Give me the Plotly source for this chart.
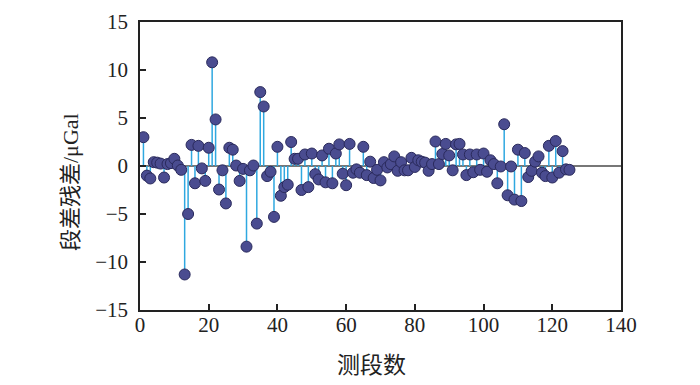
import plotly.graph_objects as go

segment_index = list(range(1, 126))
residuals = [
    3.0, -1.0, -1.3, 0.4, 0.35, 0.25, -1.2, 0.2, 0.3, 0.75,
    0.05, -0.4, -11.3, -5.0, 2.2, -1.8, 2.1, -0.25, -1.55, 1.9,
    10.8, 4.85, -2.45, -0.45, -3.9, 1.9, 1.7, 0.05, -1.55, -0.3,
    -8.4, -0.45, 0.05, -6.0, 7.7, 6.2, -1.05, -0.6, -5.3, 2.0,
    -3.1, -2.2, -1.95, 2.5, 0.75, 0.75, -2.5, 1.2, -2.2, 1.3,
    -0.85, -1.4, 1.1, -1.7, 1.8, -1.8, 1.3, 2.25, -0.8, -2.0,
    2.3, -0.7, -0.35, -0.7, 2.0, -0.95, 0.45, -1.25, -0.4, -1.5,
    0.4, -0.15, 0.2, 1.0, -0.5, 0.4, -0.45, -0.45, 0.85, -0.1,
    0.6, 0.45, 0.35, -0.5, 0.2, 2.55, 0.2, 1.25, 2.3, 1.1,
    -0.45, 2.25, 2.3, 1.2, -0.95, 1.2, -0.65, 1.2, -0.4, 1.3,
    -0.6, 0.6, 0.2, -1.8, -0.05, 4.35, -3.05, -0.05, -3.5, 1.7,
    -3.65, 1.35, -1.15, -0.5, 0.45, 1.0, -0.7, -1.05, 2.1, -1.2,
    2.6, -0.7, 1.55, -0.35, -0.4,
]
x_ticks = [0, 20, 40, 60, 80, 100, 120, 140]
y_ticks = [-15, -10, -5, 0, 5, 10, 15]
x_title = "测段数"
y_title = "段差残差/μGal"

stem_x, stem_y = [], []
for xi, yi in zip(segment_index, residuals):
    stem_x += [xi, xi, None]
    stem_y += [0, yi, None]

serif = "Liberation Serif, Times New Roman, Noto Sans CJK SC, serif"

fig = go.Figure()
fig.add_trace(go.Scatter(
    x=stem_x, y=stem_y, mode="lines",
    line=dict(color="#2fa8e0", width=1.5),
    hoverinfo="skip", showlegend=False,
))
fig.add_trace(go.Scatter(
    x=segment_index, y=residuals, mode="markers",
    marker=dict(size=11, color="#4a4c90", line=dict(color="#2a2a5c", width=1)),
    showlegend=False,
))

fig.update_layout(
    width=700, height=385,
    margin=dict(l=132, r=87, t=14, b=83),
    paper_bgcolor="white", plot_bgcolor="white",
    font=dict(family=serif, size=21, color="#222"),
    annotations=[
        dict(text=x_title, xref="paper", yref="paper", x=0.4823, y=-0.1944,
             xanchor="center", yanchor="middle", showarrow=False,
             font=dict(family=serif, size=23, color="#222")),
        dict(text=y_title, xref="paper", yref="paper", x=-0.1455, y=0.4444,
             xanchor="center", yanchor="middle", showarrow=False, textangle=-90,
             font=dict(family=serif, size=22, color="#222")),
    ],
)
fig.update_xaxes(
    range=[0, 140], tickvals=x_ticks, automargin=False,
    showgrid=False, zeroline=False,
    showline=True, linecolor="#222", linewidth=1.5, mirror=True,
    ticks="inside", ticklen=6, tickwidth=1.5, tickcolor="#222",
    ticklabelstandoff=-5,
)
fig.update_yaxes(
    range=[-15, 15], tickvals=y_ticks, automargin=False,
    showgrid=False, zeroline=True, zerolinecolor="#777", zerolinewidth=1.5,
    showline=True, linecolor="#222", linewidth=1.5, mirror=True,
    ticks="inside", ticklen=6, tickwidth=1.5, tickcolor="#222",
    ticklabelstandoff=6,
)

fig.write_html("out.html")
